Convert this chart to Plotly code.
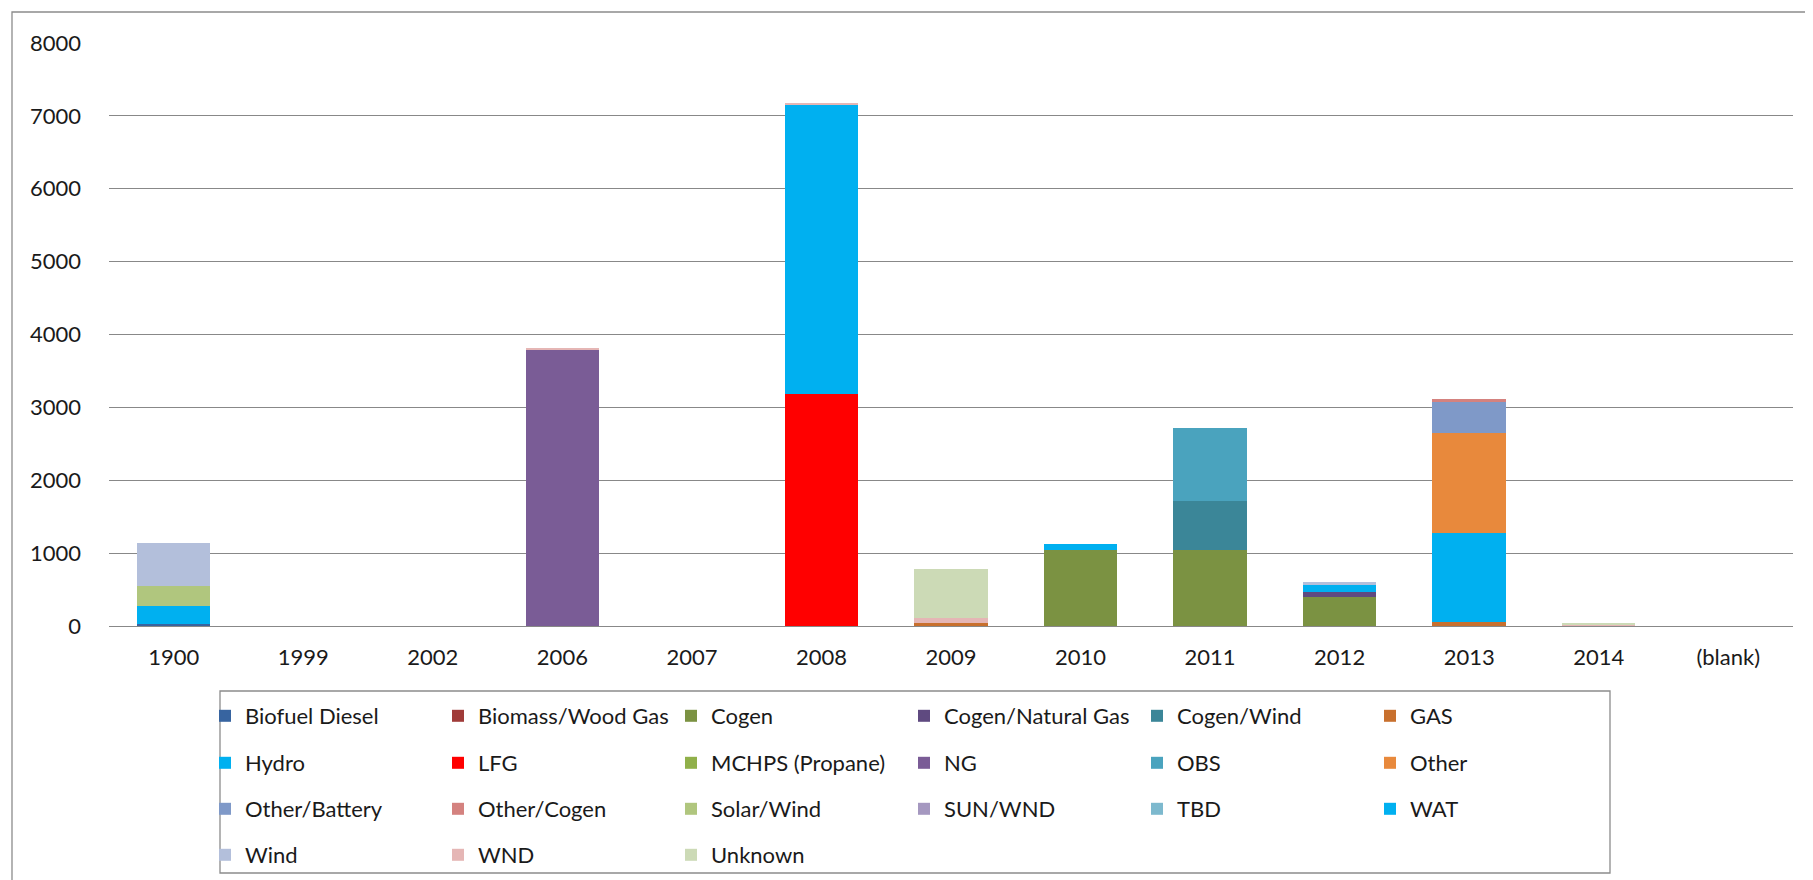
import plotly.graph_objects as go

categories = ["1900", "1999", "2002", "2006", "2007", "2008", "2009", "2010", "2011", "2012", "2013", "2014", "(blank)"]

series_names = [
    "Biofuel Diesel", "Biomass/Wood Gas", "Cogen", "Cogen/Natural Gas", "Cogen/Wind", "GAS",
    "Hydro", "LFG", "MCHPS (Propane)", "NG", "OBS", "Other",
    "Other/Battery", "Other/Cogen", "Solar/Wind", "SUN/WND", "TBD", "WAT",
    "Wind", "WND", "Unknown",
]

series_colors = [
    "#3764A0", "#A03B39", "#7B9242", "#5F4A80", "#3B8698", "#C8702E",
    "#00B0F0", "#FF0000", "#90B04A", "#7A5C96", "#4AA3BE", "#E8893C",
    "#7F99C8", "#D4827F", "#B0C67E", "#A598C0", "#7DB9CE", "#00B0F0",
    "#B3BFDB", "#E5B6B5", "#CCDAB6",
]

#                1900 1999 2002 2006 2007 2008 2009 2010 2011 2012 2013 2014 blank
biofuel_diesel = [28, 0, 0, 0, 0, 0, 0, 0, 0, 0, 0, 0, 0]
biomass_wood   = [0, 0, 0, 0, 0, 0, 0, 0, 0, 0, 0, 0, 0]
cogen          = [0, 0, 0, 0, 0, 0, 0, 1045, 1045, 396, 0, 0, 0]
cogen_ng       = [0, 0, 0, 0, 0, 0, 0, 0, 0, 69, 0, 0, 0]
cogen_wind     = [0, 0, 0, 0, 0, 0, 0, 0, 670, 0, 0, 0, 0]
gas            = [0, 0, 0, 0, 0, 0, 47, 0, 0, 0, 50, 0, 0]
hydro          = [240, 0, 0, 0, 0, 0, 0, 85, 0, 0, 1225, 0, 0]
lfg            = [0, 0, 0, 0, 0, 3178, 0, 0, 0, 0, 0, 0, 0]
mchps          = [0, 0, 0, 0, 0, 0, 0, 0, 0, 0, 0, 0, 0]
ng             = [0, 0, 0, 3795, 0, 0, 0, 0, 0, 0, 0, 0, 0]
obs            = [0, 0, 0, 0, 0, 0, 0, 0, 1000, 0, 0, 0, 0]
other          = [0, 0, 0, 0, 0, 0, 0, 0, 0, 0, 1380, 0, 0]
other_battery  = [0, 0, 0, 0, 0, 0, 0, 0, 0, 0, 425, 0, 0]
other_cogen    = [0, 0, 0, 0, 0, 0, 0, 0, 0, 0, 35, 0, 0]
solar_wind     = [282, 0, 0, 0, 0, 0, 0, 0, 0, 0, 0, 0, 0]
sun_wnd        = [0, 0, 0, 0, 0, 0, 0, 0, 0, 0, 0, 0, 0]
tbd            = [0, 0, 0, 0, 0, 0, 0, 0, 0, 0, 0, 0, 0]
wat            = [0, 0, 0, 0, 0, 3975, 0, 0, 0, 102, 0, 0, 0]
wind           = [586, 0, 0, 0, 0, 0, 0, 0, 0, 37, 0, 0, 0]
wnd            = [0, 0, 0, 15, 0, 28, 60, 0, 0, 0, 0, 15, 0]
unknown        = [0, 0, 0, 0, 0, 0, 670, 0, 0, 0, 0, 22, 0]

series_values = [
    biofuel_diesel, biomass_wood, cogen, cogen_ng, cogen_wind, gas,
    hydro, lfg, mchps, ng, obs, other,
    other_battery, other_cogen, solar_wind, sun_wnd, tbd, wat,
    wind, wnd, unknown,
]

y_ticks = [0, 1000, 2000, 3000, 4000, 5000, 6000, 7000, 8000]

W, H = 1813, 880
ML, MR, MT, MB = 101, 28, 35, 262
PW = W - ML - MR
PH = H - MT - MB

FONT = "Lato"
FS = 22
legend_names = ["legend", "legend2", "legend3", "legend4"]

fig = go.Figure()
for i, (name, vals, col) in enumerate(zip(series_names, series_values, series_colors)):
    fig.add_trace(go.Bar(
        x=categories, y=vals, name=name,
        marker=dict(color=col, line=dict(width=0)),
        legend=legend_names[i // 6],
    ))

def px_x(px):
    return (px - ML) / PW

def px_y(py):
    return (H - MB - py) / PH

legend_rows_y = [708, 755, 801, 847]
legend_common = dict(
    orientation="h", xref="container", yref="container",
    xanchor="left", yanchor="middle",
    font=dict(family=FONT, size=FS, color="#1a1a1a"),
    bgcolor="rgba(0,0,0,0)", borderwidth=0,
    entrywidth=188, entrywidthmode="pixels",
    traceorder="normal", itemclick=False,
)
layout_legends = {}
for k, ln in enumerate(legend_names):
    layout_legends[ln] = dict(legend_common, x=197 / W, y=1 - legend_rows_y[k] / H)

fig.update_layout(
    width=W, height=H,
    margin=dict(l=ML, r=MR, t=MT, b=MB),
    barmode="stack", bargap=0.434,
    plot_bgcolor="white", paper_bgcolor="white",
    font=dict(family=FONT, size=FS, color="#1a1a1a"),
    showlegend=True,
    xaxis=dict(
        type="category", categoryorder="array", categoryarray=categories,
        showgrid=False, showline=False, zeroline=False, ticks="",
        tickfont=dict(family=FONT, size=FS, color="#1a1a1a"),
        ticklabelstandoff=16,
    ),
    yaxis=dict(
        range=[0, 8000], tickvals=y_ticks, ticktext=[str(v) for v in y_ticks],
        showgrid=True, gridcolor="#888888", gridwidth=1.3,
        zeroline=True, zerolinecolor="#888888", zerolinewidth=1.3,
        showline=False, ticks="",
        tickfont=dict(family=FONT, size=FS, color="#1a1a1a"),
        ticklabelstandoff=27,
    ),
    shapes=[
        dict(type="rect", xref="paper", yref="paper",
             x0=px_x(212), x1=px_x(1602), y0=px_y(865), y1=px_y(683),
             line=dict(color="#8c8c8c", width=1.3), fillcolor="rgba(0,0,0,0)", layer="below"),
        dict(type="rect", xref="paper", yref="paper",
             x0=px_x(4), x1=px_x(1809), y0=px_y(876), y1=px_y(4),
             line=dict(color="#8c8c8c", width=1.3), fillcolor="rgba(0,0,0,0)", layer="below"),
    ],
    **layout_legends,
)

fig.write_html("out.html")
